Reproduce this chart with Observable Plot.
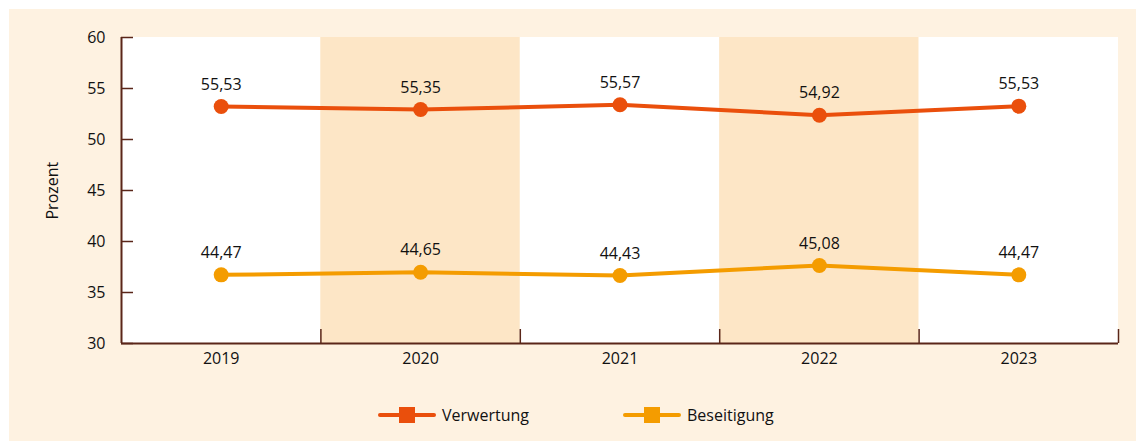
<!DOCTYPE html>
<html>
<head>
<meta charset="utf-8">
<script src="https://cdn.jsdelivr.net/npm/d3@7"></script>
<script src="https://cdn.jsdelivr.net/npm/@observablehq/plot@0.6"></script>
<style>
  html, body { margin: 0; padding: 0; background: #ffffff; }
  #panel {
    position: absolute; left: 9px; top: 9px; width: 1127px; height: 432px;
    background: #fef2e1; font-family: "Open Sans", sans-serif;
  }
  #chart { position: absolute; left: -9px; top: -9px; }
  #legend {
    position: absolute; left: 0; top: 388px; width: 1127px; height: 36px;
    font-size: 16px; color: #111111;
  }
  .item { position: absolute; top: 6px; display: flex; align-items: center; height: 24px; }
  .sym { position: relative; width: 58px; height: 16px; margin-right: 6px; }
  .sym .ln { position: absolute; left: 0; right: 0; top: 6px; height: 4px; border-radius: 2px; }
  .sym .sq { position: absolute; left: 21px; top: 0; width: 16px; height: 16px; }
</style>
</head>
<body>
<div id="panel">
  <div id="chart"></div>
  <div id="legend"></div>
</div>
<script>
// ---- data ----
const years = [2019, 2020, 2021, 2022, 2023];
const seriesNames = ["Verwertung", "Beseitigung"];
const seriesColors = ["#ea4f0c", "#f49c00"];
// labelled values (Prozent)
const verwertungLabels = [55.53, 55.35, 55.57, 54.92, 55.53];
const beseitigungLabels = [44.47, 44.65, 44.43, 45.08, 44.47];
// vertical positions at which the reference draws the points
const verwertungPlotted = [53.24, 52.94, 53.40, 52.38, 53.27];
const beseitigungPlotted = [36.73, 36.99, 36.67, 37.65, 36.73];
const yTicks = [30, 35, 40, 45, 50, 55, 60];
const shadedYears = [2020, 2022];

const fmt = v => v.toFixed(2).replace(".", ",");
const rows = [];
years.forEach((yr, i) => {
  rows.push({year: yr, series: seriesNames[0], pos: verwertungPlotted[i], label: fmt(verwertungLabels[i])});
  rows.push({year: yr, series: seriesNames[1], pos: beseitigungPlotted[i], label: fmt(beseitigungLabels[i])});
});
const boundaries = years.map(y => y + 0.5);
const axisColor = "#5a2619";
const textColor = "#111111";
const colorOf = s => seriesColors[seriesNames.indexOf(s)];

const chart = Plot.plot({
  width: 1136,
  height: 388,
  marginLeft: 121,
  marginRight: 18,
  marginTop: 37,
  marginBottom: 45,
  style: {fontFamily: "'Open Sans', sans-serif", fontSize: "16px", color: textColor, background: "transparent", overflow: "visible"},
  x: {domain: [years[0] - 0.5, years[years.length - 1] + 0.5], axis: null},
  y: {domain: [30, 60], axis: null},
  marks: [
    // plot background: white with alternating shaded bands
    Plot.rectY(years, {x1: d => d - 0.5, x2: d => d + 0.5, y1: 30, y2: 60,
      fill: d => shadedYears.includes(d) ? "#fde6c6" : "#ffffff"}),
    // y axis ticks (inside) and labels
    Plot.axisY({ticks: yTicks, tickSize: 12, dx: 12, tickFormat: () => "", label: null, stroke: axisColor, strokeWidth: 1.5}),
    Plot.axisY({ticks: yTicks, tickSize: 0, tickPadding: 16, tickFormat: d => String(d), label: null, fontSize: 16, fill: textColor}),
    Plot.text(["Prozent"], {frameAnchor: "left", rotate: -90, dx: -69, dy: 29, fontSize: 16, fill: textColor}),
    // x axis ticks at category boundaries and year labels
    Plot.axisX({ticks: boundaries, tickSize: 14, dy: -14, tickFormat: () => "", label: null, stroke: axisColor, strokeWidth: 1.5}),
    Plot.axisX({ticks: years, tickSize: 0, tickPadding: 9, tickFormat: d => String(d), label: null, fontSize: 16, fill: textColor}),
    Plot.ruleX([years[0] - 0.5], {y1: 30, y2: 60, stroke: axisColor, strokeWidth: 2}),
    Plot.ruleY([30], {stroke: axisColor, strokeWidth: 2}),
    // lines and points
    Plot.line(rows, {x: "year", y: "pos", z: "series", stroke: d => colorOf(d.series), strokeWidth: 4}),
    Plot.dot(rows, {x: "year", y: "pos", r: 7.5, fill: d => colorOf(d.series), stroke: "none"}),
    Plot.text(rows, {x: "year", y: "pos", text: "label", dy: -22, fontSize: 16, fill: textColor})
  ]
});
document.getElementById("chart").appendChild(chart);

// legend
const legend = document.getElementById("legend");
const legendLeft = [369, 614];
seriesNames.forEach((name, i) => {
  const item = document.createElement("div");
  item.className = "item";
  item.style.left = legendLeft[i] + "px";
  item.innerHTML = `<div class="sym"><div class="ln" style="background:${seriesColors[i]}"></div><div class="sq" style="background:${seriesColors[i]}"></div></div><span>${name}</span>`;
  legend.appendChild(item);
});
</script>
</body>
</html>
